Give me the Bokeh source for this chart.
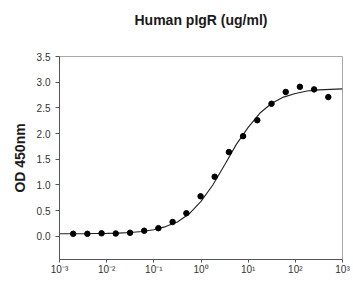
from bokeh.plotting import figure
from bokeh.models import Range1d, FixedTicker, NumeralTickFormatter, Title
from bokeh.embed import file_html
from bokeh.resources import INLINE

# Serial 2-fold dilution concentrations (ug/ml) and measured OD 450nm
conc = [0.00195, 0.0039, 0.0078, 0.0156, 0.0313, 0.0625, 0.125, 0.25, 0.49,
        0.98, 1.95, 3.9, 7.8, 15.6, 31.25, 62.5, 125, 250, 500]
od = [0.05, 0.05, 0.06, 0.055, 0.07, 0.11, 0.16, 0.28, 0.45,
      0.78, 1.16, 1.64, 1.95, 2.26, 2.58, 2.81, 2.91, 2.86, 2.71]

# Fitted curve
curve_x = [0.001, 0.00178, 0.00316, 0.00562, 0.01, 0.0178, 0.0316, 0.0562, 0.1,
           0.178, 0.316, 0.562, 1.0, 1.78, 3.16, 5.62, 10, 17.8, 31.6, 56.2,
           100, 178, 316, 562, 1000]
curve_y = [0.05, 0.05, 0.05, 0.055, 0.058, 0.064, 0.075, 0.095, 0.13,
           0.19, 0.28, 0.44, 0.68, 1.00, 1.39, 1.79, 2.12, 2.40, 2.59, 2.71,
           2.78, 2.83, 2.85, 2.86, 2.87]

x_ticks = [0.001, 0.01, 0.1, 1, 10, 100, 1000]
x_tick_labels = ["10\u207b\u00b3", "10\u207b\u00b2", "10\u207b\u00b9", "10\u2070",
                 "10\u00b9", "10\u00b2", "10\u00b3"]
y_ticks = [0.0, 0.5, 1.0, 1.5, 2.0, 2.5, 3.0, 3.5]

p = figure(frame_width=283, frame_height=203, x_axis_type="log",
           output_backend="svg", toolbar_location=None,
           x_range=Range1d(0.001, 1000), y_range=Range1d(-0.45, 3.5),
           min_border_left=59, min_border_top=56, min_border_right=8,
           min_border_bottom=0)

p.title.text = "Human pIgR (ug/ml)"
p.title.align = "center"
p.title.text_font = "Liberation Sans"
p.title.text_font_size = "14px"
p.title.text_font_style = "bold"
p.title.text_color = "#1a1a1a"
p.title.standoff = 10

# blank spacer between the title and the plot area
p.add_layout(Title(text=" ", text_font_size="11px", standoff=10), "above")

p.xgrid.visible = False
p.ygrid.visible = False
p.outline_line_color = "#a8a8a8"
p.outline_line_width = 1

p.line(curve_x, curve_y, line_color="#222222", line_width=1.1)
p.scatter(conc, od, size=5.5, fill_color="black", line_color="black")

xa = p.xaxis[0]
xa.axis_label = None
xa.ticker = FixedTicker(ticks=x_ticks, minor_ticks=[])
xa.major_label_overrides = {t: l for t, l in zip(x_ticks, x_tick_labels)}
xa.axis_line_color = "#555555"
xa.major_tick_line_color = "#555555"
xa.major_tick_out = 3
xa.major_tick_in = 0
xa.minor_tick_line_color = None
xa.major_label_standoff = 1
xa.major_label_text_font = "Liberation Sans"
xa.major_label_text_font_size = "10px"
xa.major_label_text_color = "#333333"

ya = p.yaxis[0]
ya.ticker = FixedTicker(ticks=y_ticks, minor_ticks=[])
ya.formatter = NumeralTickFormatter(format="0.0")
ya.axis_label = "OD 450nm"
ya.axis_label_text_font = "Liberation Sans"
ya.axis_label_text_font_size = "14px"
ya.axis_label_text_font_style = "bold"
ya.axis_label_text_color = "#1a1a1a"
ya.axis_label_standoff = 6
ya.axis_line_color = "#555555"
ya.major_tick_line_color = "#555555"
ya.major_tick_out = 4
ya.major_tick_in = 0
ya.minor_tick_line_color = None
ya.major_label_standoff = 5
ya.major_label_text_font = "Liberation Sans"
ya.major_label_text_font_size = "10px"
ya.major_label_text_color = "#333333"

open("out.html", "w").write(file_html(p, INLINE))
